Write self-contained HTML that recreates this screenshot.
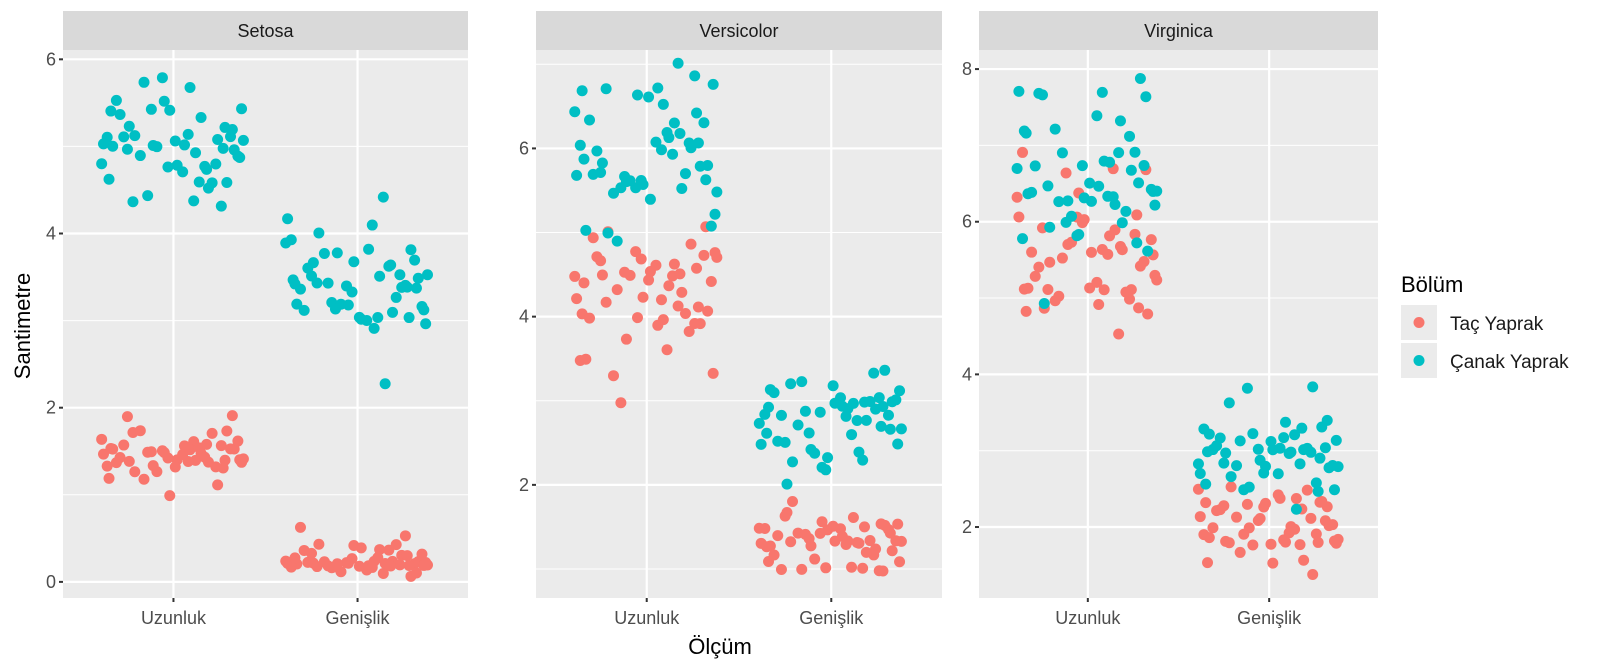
<!DOCTYPE html>
<html><head><meta charset="utf-8"><style>
html,body{margin:0;padding:0;background:#fff;}
svg{display:block;font-family:"Liberation Sans",sans-serif;}
</style></head><body>
<svg id="chart" width="1600" height="672" viewBox="0 0 1600 672" xmlns="http://www.w3.org/2000/svg">
<rect width="1600" height="672" fill="#fff"/>
<g id="panels"></g>
<text x="720" y="654" font-size="22" text-anchor="middle" fill="#000">Ölçüm</text>
<text x="0" y="0" font-size="22" text-anchor="middle" fill="#000" transform="translate(30,326) rotate(-90)">Santimetre</text>
<g>
<text x="1401" y="292" font-size="22" fill="#000">Bölüm</text>
<g>
<rect x="1401" y="305" width="36" height="35" fill="#EBEBEB"/>
<circle cx="1419" cy="322.5" r="5.5" fill="#F8766D"/>
<text x="1450" y="330" font-size="19" fill="#1a1a1a">Taç Yaprak</text>
</g>
<g>
<rect x="1401" y="343" width="36" height="35" fill="#EBEBEB"/>
<circle cx="1419" cy="360.5" r="5.5" fill="#00BFC4"/>
<text x="1450" y="368" font-size="19" fill="#1a1a1a">Çanak Yaprak</text>
</g>
</g>
</svg>
<script>
const species = ["Setosa","Versicolor","Virginica"];
const categories = ["Uzunluk","Genişlik"];
const setosaSepalL=[5.1,4.9,4.7,4.6,5.0,5.4,4.6,5.0,4.4,4.9,5.4,4.8,4.8,4.3,5.8,5.7,5.4,5.1,5.7,5.1,5.4,5.1,4.6,5.1,4.8,5.0,5.0,5.2,5.2,4.7,4.8,5.4,5.2,5.5,4.9,5.0,5.5,4.9,4.4,5.1,5.0,4.5,4.4,5.0,5.1,4.8,5.1,4.6,5.3,5.0];
const setosaSepalW=[3.5,3.0,3.2,3.1,3.6,3.9,3.4,3.4,2.9,3.1,3.7,3.4,3.0,3.0,4.0,4.4,3.9,3.5,3.8,3.8,3.4,3.7,3.6,3.3,3.4,3.0,3.4,3.5,3.4,3.2,3.1,3.4,4.1,4.2,3.1,3.2,3.5,3.6,3.0,3.4,3.5,2.3,3.2,3.5,3.8,3.0,3.8,3.2,3.7,3.3];
const setosaPetalL=[1.4,1.4,1.3,1.5,1.4,1.7,1.4,1.5,1.4,1.5,1.5,1.6,1.4,1.1,1.2,1.5,1.3,1.4,1.7,1.5,1.7,1.5,1.0,1.7,1.9,1.6,1.6,1.5,1.4,1.6,1.6,1.5,1.5,1.4,1.5,1.2,1.3,1.4,1.3,1.5,1.3,1.3,1.3,1.6,1.9,1.4,1.6,1.4,1.5,1.4];
const setosaPetalW=[0.2,0.2,0.2,0.2,0.2,0.4,0.3,0.2,0.2,0.1,0.2,0.2,0.1,0.1,0.2,0.4,0.4,0.3,0.3,0.3,0.2,0.4,0.2,0.5,0.2,0.2,0.4,0.2,0.2,0.2,0.2,0.4,0.1,0.2,0.2,0.2,0.2,0.1,0.2,0.2,0.3,0.3,0.2,0.6,0.4,0.3,0.2,0.2,0.2,0.2];
const versiSepalL=[7.0,6.4,6.9,5.5,6.5,5.7,6.3,4.9,6.6,5.2,5.0,5.9,6.0,6.1,5.6,6.7,5.6,5.8,6.2,5.6,5.9,6.1,6.3,6.1,6.4,6.6,6.8,6.7,6.0,5.7,5.5,5.5,5.8,6.0,5.4,6.0,6.7,6.3,5.6,5.5,5.5,6.1,5.8,5.0,5.6,5.7,5.7,6.2,5.1,5.7];
const versiSepalW=[3.2,3.2,3.1,2.3,2.8,2.8,3.3,2.4,2.9,2.7,2.0,3.0,2.2,2.9,2.9,3.1,3.0,2.7,2.2,2.5,3.2,2.8,2.5,2.8,2.9,3.0,2.8,3.0,2.9,2.6,2.4,2.4,2.7,2.7,3.0,3.4,3.1,2.3,3.0,2.5,2.6,3.0,2.6,2.3,2.7,3.0,2.9,2.9,2.5,2.8];
const versiPetalL=[4.7,4.5,4.9,4.0,4.6,4.5,4.7,3.3,4.6,3.9,3.5,4.2,4.0,4.7,3.6,4.4,4.5,4.1,4.5,3.9,4.8,4.0,4.9,4.7,4.3,4.4,4.8,5.0,4.5,3.5,3.8,3.7,3.9,5.1,4.5,4.5,4.7,4.4,4.1,4.0,4.4,4.6,4.0,3.3,4.2,4.2,4.2,4.3,3.0,4.1];
const versiPetalW=[1.4,1.5,1.5,1.3,1.5,1.3,1.6,1.0,1.3,1.4,1.0,1.5,1.0,1.4,1.3,1.4,1.5,1.0,1.5,1.1,1.8,1.3,1.5,1.2,1.3,1.4,1.4,1.7,1.5,1.0,1.1,1.0,1.2,1.6,1.5,1.6,1.5,1.3,1.3,1.3,1.2,1.4,1.2,1.0,1.3,1.2,1.3,1.3,1.1,1.3];
const virgSepalL=[6.3,5.8,7.1,6.3,6.5,7.6,4.9,7.3,6.7,7.2,6.5,6.4,6.8,5.7,5.8,6.4,6.5,7.7,7.7,6.0,6.9,5.6,7.7,6.3,6.7,7.2,6.2,6.1,6.4,7.2,7.4,7.9,6.4,6.3,6.1,7.7,6.3,6.4,6.0,6.9,6.7,6.9,5.8,6.8,6.7,6.7,6.3,6.5,6.2,5.9];
const virgSepalW=[3.3,2.7,3.0,2.9,3.0,3.0,2.5,2.9,2.5,3.6,3.2,2.7,3.0,2.5,2.8,3.2,3.0,3.8,2.6,2.2,3.2,2.8,2.8,2.7,3.3,3.2,2.8,3.0,2.8,3.0,2.8,3.8,2.8,2.8,2.6,3.0,3.4,3.1,3.0,3.1,3.1,3.1,2.7,3.2,3.3,3.0,2.5,3.0,3.4,3.0];
const virgPetalL=[6.0,5.1,5.9,5.6,5.8,6.6,4.5,6.3,5.8,6.1,5.1,5.3,5.5,5.0,5.1,5.3,5.5,6.7,6.9,5.0,5.7,4.9,6.7,4.9,5.7,6.0,4.8,4.9,5.6,5.8,6.1,6.4,5.6,5.1,5.6,6.1,5.6,5.5,4.8,5.4,5.6,5.1,5.1,5.9,5.7,5.2,5.0,5.2,5.4,5.1];
const virgPetalW=[2.5,1.9,2.1,1.8,2.2,2.1,1.7,1.8,1.8,2.5,2.0,1.9,2.1,2.0,2.4,2.3,1.8,2.2,2.3,1.5,2.3,2.0,2.0,1.8,2.1,1.8,1.8,1.8,2.1,1.6,1.9,2.0,2.2,1.5,1.4,2.3,2.4,1.8,1.8,2.1,2.4,2.3,1.9,2.3,2.5,2.3,1.9,2.0,2.3,1.8];
const jitter=[-0.31,0.12,0.27,-0.05,0.36,-0.22,0.08,-0.38,0.19,-0.14,0.33,-0.27,0.02,0.24,-0.35,0.15,-0.09,0.38,-0.18,0.05,0.29,-0.33,-0.02,0.21,-0.25,0.11,0.35,-0.12,0.17,-0.39,0.26,-0.06,0.09,-0.29,0.31,-0.16,0.01,0.37,-0.21,0.14,-0.36,0.23,-0.11,0.06,0.32,-0.24,0.18,-0.03,-0.34,0.28];
const yTicks1=[0,2,4,6], yTicks2=[2,4,6], yTicks3=[2,4,6,8];
const yMinor1=[1,3,5], yMinor2=[1,3,5,7], yMinor3=[3,5,7];

const panels=[
 {name:"Setosa",x0:63,x1:468,d0:-0.185,d1:6.107,ticks:yTicks1,minor:yMinor1,
  petal:[setosaPetalL,setosaPetalW],sepal:[setosaSepalL,setosaSepalW]},
 {name:"Versicolor",x0:536,x1:942,d0:0.655,d1:7.17,ticks:yTicks2,minor:yMinor2,
  petal:[versiPetalL,versiPetalW],sepal:[versiSepalL,versiSepalW]},
 {name:"Virginica",x0:979,x1:1378,d0:1.07,d1:8.25,ticks:yTicks3,minor:yMinor3,
  petal:[virgPetalL,virgPetalW],sepal:[virgSepalL,virgSepalW]}
];
const plotTop=50, plotBottom=598, NS="http://www.w3.org/2000/svg";
const root=document.getElementById('panels');
function mk(tag,attrs,parent){const e=document.createElementNS(NS,tag);for(const k in attrs)e.setAttribute(k,attrs[k]);parent.appendChild(e);return e;}
panels.forEach((p,pi)=>{
  const g=mk('g',{},root);
  
  
  const yS=v=>plotBottom-(v-p.d0)/(p.d1-p.d0)*(plotBottom-plotTop);
  const unit=(p.x1-p.x0)/2.2;
  const xS=c=>p.x0+(0.6+c)*unit;
  const bg=mk('rect',{x:p.x0,y:plotTop,width:p.x1-p.x0,height:plotBottom-plotTop,fill:'#EBEBEB'},g);
  
  
  const st=mk('rect',{x:p.x0,y:11,width:p.x1-p.x0,height:39,fill:'#D9D9D9'},g);
  
  
  const stt=mk('text',{x:(p.x0+p.x1)/2,y:37,'font-size':18,'text-anchor':'middle',fill:'#1a1a1a'},g);
  stt.textContent=p.name;
  
  
  p.minor.forEach(v=>{const l=mk('line',{x1:p.x0,x2:p.x1,y1:yS(v),y2:yS(v),stroke:'#fff','stroke-width':1},g);
    
    });
  p.ticks.forEach(v=>{const y=yS(v);
    const l=mk('line',{x1:p.x0,x2:p.x1,y1:y,y2:y,stroke:'#fff','stroke-width':2.2},g);
    
    
    const tk=mk('line',{x1:p.x0-4,x2:p.x0,y1:y,y2:y,stroke:'#333','stroke-width':2},g);
    
    
    const t=mk('text',{x:p.x0-7,y:y+6,'font-size':18,'text-anchor':'end',fill:'#4d4d4d'},g);
    t.textContent=v;
    
    });
  categories.forEach((c,ci)=>{const x=xS(ci);
    const l=mk('line',{x1:x,x2:x,y1:plotTop,y2:plotBottom,stroke:'#fff','stroke-width':2.2},g);
    
    
    const tk=mk('line',{x1:x,x2:x,y1:plotBottom,y2:plotBottom+4,stroke:'#333','stroke-width':2},g);
    
    
    const t=mk('text',{x:x,y:624,'font-size':18,'text-anchor':'middle',fill:'#4d4d4d'},g);
    t.textContent=c;
    
    });
  [[p.petal,'#F8766D','tac-yaprak',0],[p.sepal,'#00BFC4','canak-yaprak',17]].forEach(([ser,col,nm,sh])=>{
    ser.forEach((vals,ci)=>{vals.forEach((v,i)=>{
      const j=jitter[(i+sh+ci*7+pi*11)%jitter.length];
      const c=mk('circle',{cx:xS(ci+j),cy:yS(v+(jitter[(i*3+ci+pi)%jitter.length])*0.1),r:5.5,fill:col},g);
      
      
    });});
  });
});
</script>
</body></html>
